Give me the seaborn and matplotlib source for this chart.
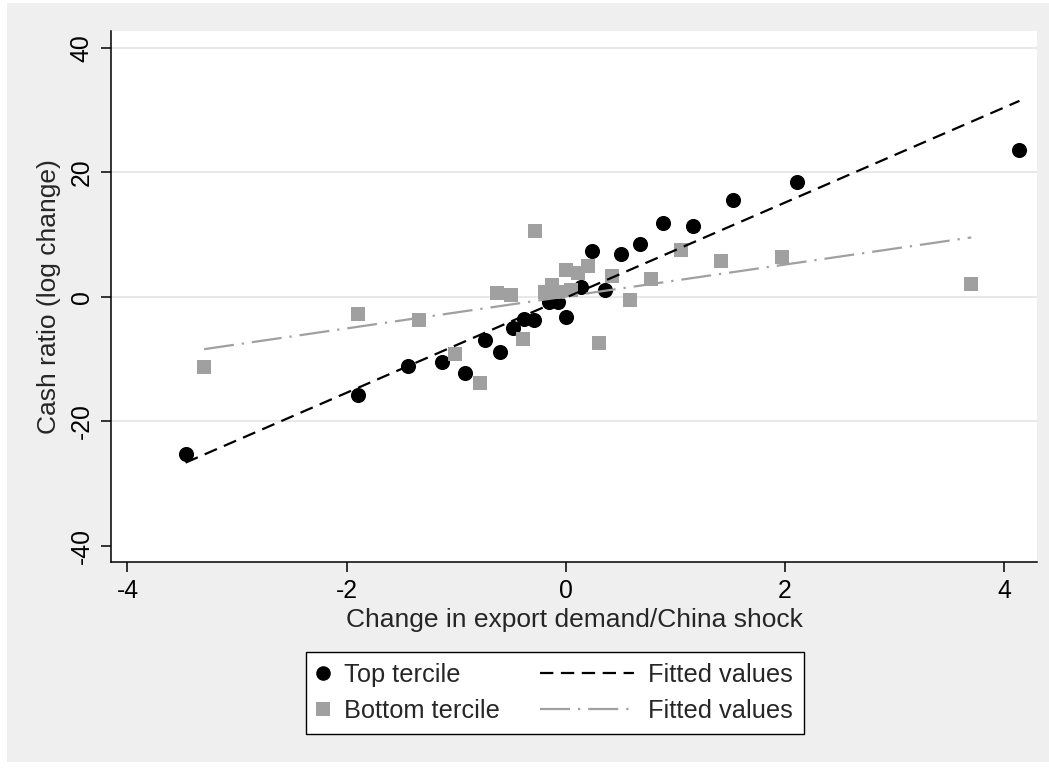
import numpy as np
import pandas as pd
import matplotlib
matplotlib.use("Agg")
import matplotlib.pyplot as plt
import seaborn as sns
from matplotlib.lines import Line2D
from matplotlib.legend_handler import HandlerLine2D
from matplotlib.patches import Rectangle

# Top tercile: binned change in export demand vs. log change in cash ratio
top_x = [-3.47, -1.90, -1.44, -1.13, -0.92, -0.74, -0.60, -0.48, -0.38, -0.29,
         -0.15, -0.07, 0.00, 0.14, 0.24, 0.36, 0.50, 0.68, 0.89, 1.16,
         1.53, 2.11, 4.14]
top_y = [-25.3, -15.8, -11.1, -10.4, -12.3, -7.0, -8.9, -5.0, -3.6, -3.8,
         -0.8, -0.8, -3.3, 1.5, 7.4, 1.1, 6.9, 8.5, 11.9, 11.4,
         15.5, 18.5, 23.6]

# Bottom tercile
bottom_x = [-3.30, -1.90, -1.34, -1.01, -0.78, -0.63, -0.50, -0.39, -0.28, -0.19,
            -0.13, -0.07, 0.00, 0.05, 0.11, 0.20, 0.30, 0.42, 0.59, 0.78,
            1.05, 1.42, 1.97, 3.70]
bottom_y = [-11.2, -2.8, -3.8, -9.2, -13.8, 0.6, 0.3, -6.7, 10.5, 0.8,
            1.9, 0.8, 4.3, 1.1, 3.8, 5.0, -7.5, 3.3, -0.5, 2.8,
            7.6, 5.7, 6.4, 2.0]

x_ticks = [-4, -2, 0, 2, 4]
y_ticks = [-40, -20, 0, 20, 40]
x_label = "Change in export demand/China shock"
y_label = "Cash ratio (log change)"
legend_labels = ["Top tercile", "Bottom tercile", "Fitted values", "Fitted values"]

sns.set_theme(style="white")
plt.rcParams["font.family"] = ["Liberation Sans", "DejaVu Sans"]

BG = "#efefef"
GREY = "#a0a0a0"
GRID = "#e6e6e6"
FS_TICK = 17.8
FS_TITLE = 19.0
FS_LEG = 18.3
W, H = 1049, 769

fig = plt.figure(figsize=(W / 100, H / 100), dpi=100, facecolor="white")
# grey graph region inside a thin white border
fig.patches.append(Rectangle((7 / W, 7 / H), 1 - 7 / W, 1 - 10 / H,
                             transform=fig.transFigure, facecolor=BG,
                             edgecolor="none", zorder=-10))

ax = fig.add_axes([111 / W, 1 - 562 / H, (1037 - 111) / W, (562 - 31) / H])
ax.set_facecolor("white")

df_top = pd.DataFrame({"x": top_x, "y": top_y})
df_bot = pd.DataFrame({"x": bottom_x, "y": bottom_y})

sns.scatterplot(data=df_top, x="x", y="y", marker="o", color="black", s=118,
                linewidth=0, ax=ax, zorder=3, legend=False)
sns.scatterplot(data=df_bot, x="x", y="y", marker="s", color=GREY, s=112,
                linewidth=0, ax=ax, zorder=3, legend=False)

dash_top = (6, 3.4)
dash_bot = (13.5, 3.6, 1.0, 3.6)
sns.regplot(data=df_top, x="x", y="y", scatter=False, ci=None, truncate=True,
            ax=ax, line_kws=dict(color="black", lw=1.6, dashes=dash_top, zorder=4))
sns.regplot(data=df_bot, x="x", y="y", scatter=False, ci=None, truncate=True,
            ax=ax, line_kws=dict(color=GREY, lw=1.6, dashes=dash_bot, zorder=4))

ax.set_xlim(-4.15, 4.30)
ax.set_ylim(-42.6, 42.7)
ax.set_xticks(x_ticks)
ax.set_yticks(y_ticks)
ax.set_xticklabels([str(t) for t in x_ticks])
ax.set_yticklabels([str(t) for t in y_ticks])

ax.yaxis.grid(True, color=GRID, lw=1.3)
ax.xaxis.grid(False)
ax.set_axisbelow(True)
ax.get_ygridlines()[0].set_visible(False)

for side in ("top", "right"):
    ax.spines[side].set_visible(False)
for side in ("left", "bottom"):
    ax.spines[side].set_color("black")
    ax.spines[side].set_linewidth(1.1)

ax.tick_params(axis="both", direction="out", length=7.5, width=1.1,
               color="black", labelcolor="black", labelsize=FS_TICK,
               bottom=True, left=True)
ax.tick_params(axis="x", pad=5)
ax.tick_params(axis="y", pad=5)
for lab in ax.get_yticklabels():
    lab.set_rotation(90)
    lab.set_va("center")

ax.set_xlabel(x_label, fontsize=FS_TITLE, labelpad=3)
ax.set_ylabel(y_label, fontsize=FS_TITLE, labelpad=6)


class WideLineHandler(HandlerLine2D):
    """Line handle that reaches further left than the handle box."""

    def __init__(self, extra, **kw):
        super().__init__(**kw)
        self.extra = extra

    def get_xdata(self, legend, xdescent, ydescent, width, height, fontsize):
        xdata = np.array([-xdescent - self.extra * fontsize, -xdescent + width])
        return xdata, xdata


h_top = Line2D([], [], marker="o", color="black", ls="none", markersize=10.5,
               markeredgewidth=0)
h_bot = Line2D([], [], marker="s", color=GREY, ls="none", markersize=10.0,
               markeredgewidth=0)
h_fit_top = Line2D([], [], color="black", lw=1.6, dashes=dash_top)
h_fit_bot = Line2D([], [], color=GREY, lw=1.6, dashes=dash_bot)

leg = fig.legend([h_top, h_bot, h_fit_top, h_fit_bot], legend_labels,
                 ncol=2, loc="center", bbox_to_anchor=(555 / W, 1 - 693 / H),
                 fontsize=FS_LEG, frameon=True, fancybox=False, framealpha=1,
                 facecolor="white", edgecolor="black", handlelength=0.5,
                 handletextpad=0.55, columnspacing=4.8, borderpad=0.42,
                 labelspacing=0.5, borderaxespad=0,
                 handler_map={h_fit_top: WideLineHandler(3.2),
                              h_fit_bot: WideLineHandler(3.2)})
leg.get_frame().set_linewidth(1.0)

fig.savefig("out.png", dpi=100, facecolor=fig.get_facecolor())
